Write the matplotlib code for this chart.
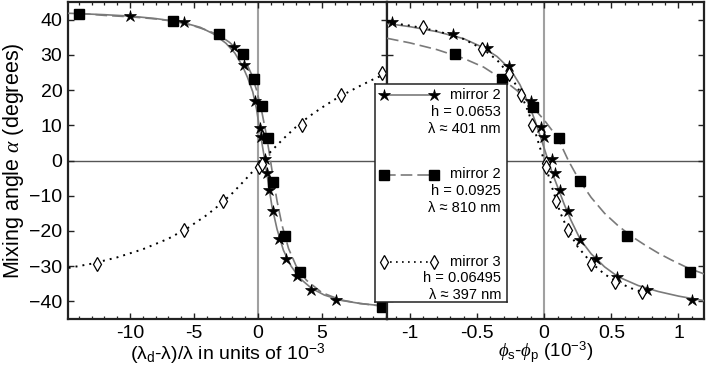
import matplotlib
matplotlib.use("Agg")
import matplotlib.pyplot as plt
from matplotlib.ticker import MultipleLocator, FixedLocator
from matplotlib.lines import Line2D

plt.rcParams['font.family'] = ['Liberation Sans', 'DejaVu Sans']
plt.rcParams['mathtext.fontset'] = 'custom'
plt.rcParams['mathtext.rm'] = 'Liberation Sans'
plt.rcParams['mathtext.it'] = 'Liberation Serif:italic'
plt.rcParams['mathtext.bf'] = 'Liberation Sans:bold'

# ---------------- data: left panel (detuning, 10^-3) ----------------
L_star_x = [-10.0, -5.78, -1.85, -1.07, -0.21, 0.16, 0.21, 0.55, 0.68, 0.89, 1.15, 1.67, 2.19, 3.07, 4.19, 6.09]
L_star_y = [41.0, 39.2, 32.2, 27.0, 17.0, 9.3, 6.6, 0.5, -3.6, -8.5, -14.4, -22.4, -27.9, -32.9, -36.7, -39.5]
L_sq_x = [-14.0, -6.67, -3.05, -1.2, -0.31, 0.31, 0.76, 1.17, 2.1, 3.28, 9.74]
L_sq_y = [41.5, 39.6, 35.8, 30.3, 23.2, 15.6, 6.3, -6.0, -21.4, -31.7, -41.7]
L_dia_x = [-12.55, -5.78, -2.71, 0.05, 0.31, 3.49, 6.54, 9.74]
L_dia_y = [-29.4, -19.7, -11.4, -1.9, -0.95, 10.1, 18.7, 24.8]

# fit curves
L_fit_star_x = [-14.8, -12, -10, -8, -6, -4.5, -3.5, -2.5, -1.8, -1.2, -0.8, -0.4, -0.1, 0.2, 0.5, 0.8, 1.1, 1.5, 2.0, 2.6, 3.3, 4.2, 5.2, 6.5, 8.0, 10.1]
L_fit_star_y = [41.8, 41.4, 41.0, 40.3, 39.3, 37.8, 36.0, 33.3, 30.5, 26.8, 23.5, 19.5, 14.5, 7.5, 1.0, -6.0, -13.0, -19.5, -25.5, -30.0, -33.5, -36.3, -38.2, -39.7, -40.6, -41.4]
L_fit_sq_x = [-14.0, -12, -10, -8, -6.5, -5, -4, -3, -2.2, -1.5, -1.0, -0.5, -0.1, 0.3, 0.6, 0.9, 1.2, 1.5, 1.9, 2.4, 3.0, 3.8, 5.0, 6.5, 8.0, 10.1]
L_fit_sq_y = [41.8, 41.2, 40.8, 40.2, 39.5, 38.2, 37.0, 35.5, 33.5, 31.0, 28.5, 24.5, 20.0, 14.0, 8.5, 2.0, -5.0, -11.5, -18.5, -25.0, -30.0, -34.0, -37.5, -39.6, -40.6, -41.5]
L_fit_dia_x = [-14.8, -13, -11, -9, -7, -5.5, -4, -3, -2, -1, 0, 1, 2, 3, 4, 5, 6, 7, 8, 9, 10.1]
L_fit_dia_y = [-30.5, -29.3, -27.5, -25.2, -22.2, -19.2, -15.5, -12.6, -9.3, -5.5, -1.5, 2.5, 6.2, 9.6, 12.5, 15.0, 17.3, 19.3, 21.2, 23.0, 24.8]

# ---------------- data: right panel (phase difference, 10^-3) ----------------
R_star_x = [-1.13, -0.68, -0.425, -0.26, -0.10, -0.027, 0.0, 0.055, 0.08, 0.117, 0.175, 0.27, 0.384, 0.545, 0.764, 1.10]
R_star_y = [39.3, 36.0, 32.0, 26.8, 17.0, 9.5, 6.6, 0.5, -3.6, -8.5, -14.2, -22.5, -27.9, -33.0, -36.7, -39.5]
R_sq_x = [-0.666, -0.316, -0.082, 0.11, 0.266, 0.62, 1.087]
R_sq_y = [30.1, 23.2, 15.3, 6.4, -5.9, -21.3, -31.7]
R_dia_x = [-0.90, -0.46, -0.26, -0.174, -0.087, 0.01, 0.015, 0.087, 0.175, 0.348, 0.53, 0.73]
R_dia_y = [37.9, 31.7, 24.6, 18.7, 10.1, -0.65, -1.9, -11.4, -19.7, -29.4, -34.4, -37.2]

R_fit_star_x = [-1.17, -1.0, -0.8, -0.6, -0.45, -0.35, -0.25, -0.18, -0.12, -0.07, -0.03, 0.0, 0.03, 0.06, 0.1, 0.15, 0.2, 0.27, 0.35, 0.45, 0.55, 0.7, 0.85, 1.0, 1.19]
R_fit_star_y = [38.9, 38.0, 36.6, 34.6, 32.0, 29.5, 25.8, 21.5, 16.5, 11.5, 7.0, 3.5, 0.0, -3.5, -7.5, -12.5, -17.0, -22.5, -26.5, -30.2, -33.0, -35.5, -37.2, -38.5, -39.8]
R_fit_sq_x = [-1.17, -1.0, -0.8, -0.6, -0.45, -0.3, -0.2, -0.1, 0.0, 0.1, 0.18, 0.26, 0.35, 0.45, 0.55, 0.65, 0.75, 0.85, 0.95, 1.07, 1.19]
R_fit_sq_y = [34.7, 33.4, 31.5, 29.0, 26.5, 22.8, 19.8, 15.8, 11.5, 6.5, 0.0, -5.5, -10.5, -15.0, -18.5, -21.5, -24.0, -26.3, -28.3, -30.5, -32.2]
R_fit_dia_x = [-1.17, -1.0, -0.8, -0.6, -0.45, -0.35, -0.25, -0.18, -0.12, -0.07, -0.03, 0.0, 0.03, 0.07, 0.12, 0.18, 0.25, 0.35, 0.45, 0.55, 0.65, 0.78]
R_fit_dia_y = [39.2, 38.3, 36.8, 34.5, 31.5, 28.5, 24.0, 19.5, 14.0, 8.5, 3.5, 0.0, -4.0, -9.0, -14.8, -20.0, -24.5, -29.0, -32.3, -34.6, -36.3, -38.0]

# ticks / labels
L_xticks = [-10, -5, 0, 5]
L_xticklabels = ['-10', '-5', '0', '5']
R_xticks = [-1, -0.5, 0, 0.5, 1]
R_xticklabels = ['-1', '-0.5', '0', '0.5', '1']
yticks = [-40, -30, -20, -10, 0, 10, 20, 30, 40]
yticklabels = ['\u221240', '\u221230', '\u221220', '\u221210', '0', '10', '20', '30', '40']

legend_entries = [
    ('mirror 2', 'h = 0.0653', '\u03bb \u2248 401 nm'),
    ('mirror 2', 'h = 0.0925', '\u03bb \u2248 810 nm'),
    ('mirror 3', 'h = 0.06495', '\u03bb \u2248 397 nm'),
]

# ---------------- styles ----------------
grey = '#7a7a7a'
star_kw = dict(marker='*', ms=9, mfc='black', mec='black', mew=0.5, ls='none', zorder=5)
sq_kw = dict(marker='s', ms=6.5, mfc='black', mec='black', ls='none', zorder=5)
dia_kw = dict(marker='d', ms=7.5, mfc='white', mec='black', mew=0.9, ls='none', zorder=6)
fit_star_kw = dict(color=grey, lw=1.2, ls='-', zorder=3)
fit_sq_kw = dict(color=grey, lw=1.2, ls=(0, (7, 3)), zorder=3)
fit_dia_kw = dict(color='black', lw=1.4, ls=(0, (1, 2.6)), zorder=3)

W, H = 706, 367
fig = plt.figure(figsize=(W / 100, H / 100), dpi=100)
axL = fig.add_axes([68 / W, 1 - 319 / H, (387 - 68) / W, (319 - 2) / H])
axR = fig.add_axes([387 / W, 1 - 319 / H, (704 - 387) / W, (319 - 2) / H])

def style(ax):
    for s in ax.spines.values():
        s.set_linewidth(1.6)
        s.set_color('#222222')
    ax.tick_params(which='both', direction='in', top=True, right=True, colors='#222222', labelcolor='black', labelsize=14)
    ax.tick_params(which='major', length=4.5, width=1.0, pad=4)
    ax.tick_params(which='minor', length=2.5, width=0.9)
    ax.set_ylim(-45, 45)
    ax.yaxis.set_major_locator(FixedLocator(yticks))
    ax.axvline(0, color='#a0a0a0', lw=1.5, zorder=1)
    ax.axhline(0, color='#555555', lw=1.0, zorder=1)

style(axL)
style(axR)

# left panel
axL.plot(L_fit_star_x, L_fit_star_y, **fit_star_kw)
axL.plot(L_fit_sq_x, L_fit_sq_y, **fit_sq_kw)
axL.plot(L_fit_dia_x, L_fit_dia_y, **fit_dia_kw)
axL.plot(L_star_x, L_star_y, **star_kw)
axL.plot(L_sq_x, L_sq_y, **sq_kw)
axL.plot(L_dia_x, L_dia_y, **dia_kw)
axL.set_xlim(-14.85, 10.1)
axL.set_xticks(L_xticks)
axL.set_xticklabels(L_xticklabels)
axL.xaxis.set_minor_locator(MultipleLocator(1))
axL.set_yticklabels(yticklabels)
axL.set_xlabel('(\u03bb$_\\mathrm{d}$-\u03bb)/\u03bb in units of 10$^{-3}$', fontsize=14, labelpad=0)
axL.set_ylabel('Mixing angle $\\alpha$ (degrees)', fontsize=15.5, labelpad=2)

# right panel
axR.plot(R_fit_star_x, R_fit_star_y, **fit_star_kw)
axR.plot(R_fit_sq_x, R_fit_sq_y, **fit_sq_kw)
axR.plot(R_fit_dia_x, R_fit_dia_y, **fit_dia_kw)
axR.plot(R_star_x, R_star_y, **star_kw)
axR.plot(R_sq_x, R_sq_y, **sq_kw)
axR.plot(R_dia_x, R_dia_y, **dia_kw)
axR.set_xlim(-1.17, 1.19)
axR.set_xticks(R_xticks)
axR.set_xticklabels(R_xticklabels)
axR.xaxis.set_minor_locator(MultipleLocator(0.1))
axR.set_yticklabels([])
axR.set_xlabel('$\\phi_\\mathrm{s}$-$\\phi_\\mathrm{p}$ (10$^{-3}$)', fontsize=13.5, labelpad=-1)

# legend box (drawn manually)
lx0, lx1, ly0, ly1 = 375, 507, 84, 302
lg = fig.add_axes([lx0 / W, 1 - ly1 / H, (lx1 - lx0) / W, (ly1 - ly0) / H], zorder=10)
lg.set_xlim(0, 1)
lg.set_ylim(0, 1)
lg.set_xticks([])
lg.set_yticks([])
for s in lg.spines.values():
    s.set_linewidth(1.1)
    s.set_color('#222222')
handle_styles = [
    (fit_star_kw, star_kw),
    (fit_sq_kw, sq_kw),
    (dict(fit_dia_kw, lw=1.2), dia_kw),
]
group_tops = [95, 174.5, 261.5]
line_step = 16.8
for (lkw, mkw), top, entry in zip(handle_styles, group_tops, legend_entries):
    yy = (ly1 - top) / (ly1 - ly0)
    lkw2 = {k: v for k, v in lkw.items() if k != 'zorder'}
    mkw2 = {k: v for k, v in mkw.items() if k not in ('zorder', 'ls')}
    lg.add_line(Line2D([0.07, 0.445], [yy, yy], **lkw2))
    lg.add_line(Line2D([0.07, 0.445], [yy, yy], ls='none', **mkw2))
    for i, t in enumerate(entry):
        y = (ly1 - (top + i * line_step)) / (ly1 - ly0)
        lg.text(0.955, y, t, ha='right', va='center', fontsize=10.5)

fig.savefig('out.png', dpi=100)
